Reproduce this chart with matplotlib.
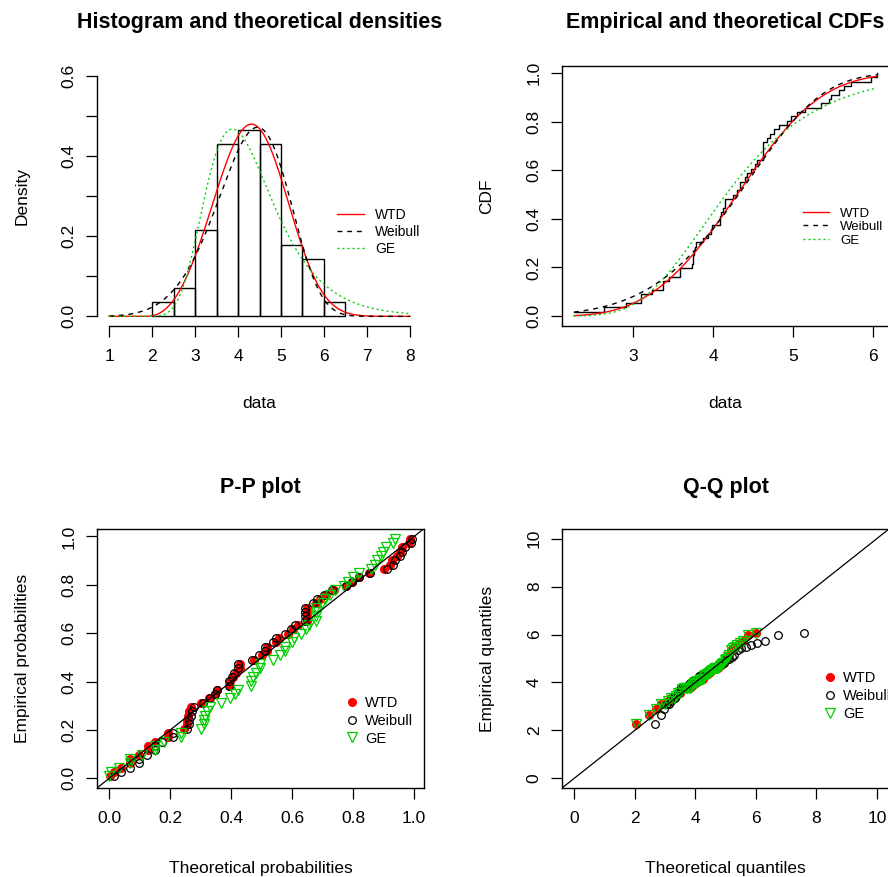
import numpy as np
import matplotlib
matplotlib.use("Agg")
import matplotlib.pyplot as plt

plt.rcParams["font.family"] = ["Liberation Sans", "DejaVu Sans"]

data = np.array([
    2.26, 2.63, 2.91,
    3.10, 3.10, 3.24, 3.37, 3.37, 3.45,
    3.58, 3.58, 3.73, 3.75, 3.75, 3.76, 3.77, 3.79, 3.87, 3.93, 3.97, 3.99,
    4.08, 4.08, 4.10, 4.12, 4.15, 4.15, 4.25, 4.30, 4.34, 4.34, 4.40, 4.42, 4.48,
    4.52, 4.55, 4.62, 4.62, 4.62, 4.62, 4.68, 4.71, 4.76, 4.82, 4.93, 4.98,
    5.05, 5.15, 5.35, 5.45, 5.48,
    5.58, 5.64, 5.72, 5.97,
    6.05,
])
hist_breaks = [2.0, 2.5, 3.0, 3.5, 4.0, 4.5, 5.0, 5.5, 6.0, 6.5]

model_names = ["WTD", "Weibull", "GE"]
model_colors = ["red", "black", "#00CD00"]

# --- fitted parameters ---
wtd_loc, wtd_scale, wtd_shape = 1.84, 2.74, 3.4
wei_scale, wei_shape = 4.6, 5.8
ge_alpha, ge_rate = 133.0, 1.264


def wtd_pdf(x):
    t = np.clip((x - wtd_loc) / wtd_scale, 0, None)
    return wtd_shape / wtd_scale * t ** (wtd_shape - 1) * np.exp(-t ** wtd_shape)


def wtd_cdf(x):
    t = np.clip((x - wtd_loc) / wtd_scale, 0, None)
    return 1 - np.exp(-t ** wtd_shape)


def wei_pdf(x):
    t = x / wei_scale
    return wei_shape / wei_scale * t ** (wei_shape - 1) * np.exp(-t ** wei_shape)


def wei_cdf(x):
    return 1 - np.exp(-(x / wei_scale) ** wei_shape)


def wei_q(p):
    return wei_scale * (-np.log1p(-p)) ** (1 / wei_shape)


def ge_pdf(x):
    e = np.exp(-ge_rate * x)
    return ge_alpha * ge_rate * e * (1 - e) ** (ge_alpha - 1)


def ge_cdf(x):
    return (1 - np.exp(-ge_rate * x)) ** ge_alpha


def ge_q(p):
    return -np.log(1 - p ** (1 / ge_alpha)) / ge_rate


n = len(data)
ppts = (np.arange(1, n + 1) - 0.5) / n
ecdf = np.arange(1, n + 1) / n

line_styles = [dict(ls="-"), dict(dashes=(3.5, 3.5)), dict(dashes=(1.4, 2.2))]
marker_styles = [
    dict(marker="o", ms=5.5, mfc="red", mec="red"),
    dict(marker="o", ms=5.5, mfc="none", mec="black", mew=0.9),
    dict(marker="v", ms=7, mfc="none", mec="#00CD00", mew=0.9),
]

fig = plt.figure(figsize=(8.88, 8.77), dpi=100)
W, H = 888.0, 877.0


def make_axes(left, top, bottom, width=327):
    return fig.add_axes([left / W, 1 - bottom / H, width / W, (bottom - top) / H])


def style(ax, title, xlabel, ylabel, title_y):
    ax.set_title(title, fontsize=15.5, fontweight="bold", y=title_y, va="center", pad=0)
    ax.set_xlabel(xlabel, fontsize=12.5)
    ax.set_ylabel(ylabel, fontsize=12.5)
    ax.xaxis.label.set_va("center")
    ax.yaxis.label.set_va("center")
    ax.xaxis.set_label_coords(0.5, -0.30)
    ax.yaxis.set_label_coords(-0.229, 0.5)
    ax.tick_params(direction="out", length=8, width=0.9, labelsize=12.5)
    ax.tick_params(axis="x", pad=8.5)
    ax.tick_params(axis="y", pad=6.5)
    plt.setp(ax.get_yticklabels(), rotation=90, va="center")
    for sp in ax.spines.values():
        sp.set_linewidth(1.0)


# --- 1. histogram and densities ---
ax1 = make_axes(97, 66, 326, width=325)
ax1.hist(data, bins=hist_breaks, density=True, facecolor="none",
         edgecolor="black", linewidth=1.0)
xd = np.linspace(1, 8, 400)
for f, c, ls, lab in zip([wtd_pdf, wei_pdf, ge_pdf], model_colors, line_styles, model_names):
    ax1.plot(xd, f(xd), color=c, lw=1.0, label=lab, **ls)
ax1.set_xlim(0.72, 8.28)
ax1.set_ylim(-0.024, 0.624)
ax1.set_xticks(range(1, 9))
ax1.set_yticks(np.arange(0, 0.61, 0.1))
ax1.set_yticklabels(["0.0", "", "0.2", "", "0.4", "", "0.6"])
ax1.spines["top"].set_visible(False)
ax1.spines["right"].set_visible(False)
ax1.spines["left"].set_bounds(0, 0.6)
ax1.spines["bottom"].set_bounds(1, 8)
style(ax1, "Histogram and theoretical densities", "data", "Density", 1.169)
ax1.legend(loc="center left", bbox_to_anchor=(0.737, 0.362), frameon=False,
           fontsize=10, handlelength=2.0, handletextpad=0.8, labelspacing=0.2,
           borderpad=0, borderaxespad=0)

# --- 2. empirical and theoretical CDFs ---
ax2 = make_axes(562, 66, 326)
ax2.step(data, ecdf, where="post", color="black", lw=1.0)
xc = np.linspace(data.min(), data.max(), 400)
for f, c, ls, lab in zip([wtd_cdf, wei_cdf, ge_cdf], model_colors, line_styles, model_names):
    ax2.plot(xc, f(xc), color=c, lw=1.0, label=lab, **ls)
ax2.set_xlim(2.11, 6.2)
ax2.set_ylim(-0.041, 1.029)
ax2.set_xticks([3, 4, 5, 6])
ax2.set_yticks(np.arange(0, 1.01, 0.2))
ax2.set_yticklabels(["0.0", "0.2", "0.4", "0.6", "0.8", "1.0"])
style(ax2, "Empirical and theoretical CDFs", "data", "CDF", 1.169)
ax2.legend(loc="center left", bbox_to_anchor=(0.737, 0.381), frameon=False,
           fontsize=9.5, handlelength=2.0, handletextpad=0.8, labelspacing=0.1,
           borderpad=0, borderaxespad=0)

# --- 3. P-P plot ---
ax3 = make_axes(97, 529, 788)
for f, ms, lab in zip([wtd_cdf, wei_cdf, ge_cdf], marker_styles, model_names):
    ax3.plot(f(data), ppts, ls="none", label=lab, **ms)
ax3.margins(0.04)
ax3.axline((0, 0), slope=1, color="black", lw=0.9)
ax3.set_xticks(np.arange(0, 1.01, 0.2))
ax3.set_xticklabels(["0.0", "0.2", "0.4", "0.6", "0.8", "1.0"])
ax3.set_yticks(np.arange(0, 1.01, 0.2))
ax3.set_yticklabels(["0.0", "0.2", "0.4", "0.6", "0.8", "1.0"])
style(ax3, "P-P plot", "Theoretical probabilities", "Empirical probabilities", 1.162)
ax3.xaxis.set_label_coords(0.5, -0.309)
ax3.legend(loc="center left", bbox_to_anchor=(0.758, 0.259), frameon=False,
           fontsize=10.5, handlelength=1.0, handletextpad=0.4, labelspacing=0.25,
           borderpad=0, borderaxespad=0, numpoints=1)

# --- 4. Q-Q plot (quantile functions paired with legend entries as in the source) ---
ax4 = make_axes(562, 529, 788)
qq_quantiles = [wei_q, ge_q, wei_q]
for q, ms, lab in zip(qq_quantiles, marker_styles, model_names):
    ax4.plot(q(ppts), data, ls="none", label=lab, **ms)
ax4.axline((0, 0), slope=1, color="black", lw=0.9)
ax4.set_xlim(-0.4, 10.4)
ax4.set_ylim(-0.4, 10.4)
ax4.set_xticks(range(0, 11, 2))
ax4.set_yticks(range(0, 11, 2))
style(ax4, "Q-Q plot", "Theoretical quantiles", "Empirical quantiles", 1.162)
ax4.xaxis.set_label_coords(0.5, -0.309)
ax4.legend(loc="center left", bbox_to_anchor=(0.798, 0.355), frameon=False,
           fontsize=10.5, handlelength=1.0, handletextpad=0.4, labelspacing=0.25,
           borderpad=0, borderaxespad=0, numpoints=1)

fig.savefig("out.png", dpi=100)
